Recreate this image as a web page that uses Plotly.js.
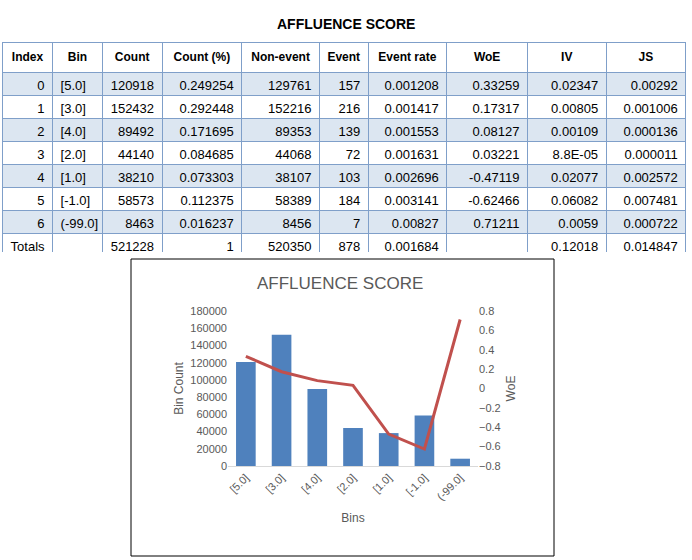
<!DOCTYPE html>
<html>
<head>
<meta charset="utf-8">
<script src="https://cdn.plot.ly/plotly-3.0.1.min.js"></script>
<style>body{margin:0;background:#fff}#chart{width:692px;height:560px}</style>
</head>
<body>
<div id="chart"></div>
<script>
// table data
var indexCol = ['0', '1', '2', '3', '4', '5', '6', 'Totals'];
var bins = ['[5.0]', '[3.0]', '[4.0]', '[2.0]', '[1.0]', '[-1.0]', '(-99.0]'];
var counts = [120918, 152432, 89492, 44140, 38210, 58573, 8463];
var countPct = ['0.249254', '0.292448', '0.171695', '0.084685', '0.073303', '0.112375', '0.016237'];
var nonEvent = [129761, 152216, 89353, 44068, 38107, 58389, 8456];
var events = [157, 216, 139, 72, 103, 184, 7];
var eventRate = ['0.001208', '0.001417', '0.001553', '0.001631', '0.002696', '0.003141', '0.00827'];
var woe = [0.33259, 0.17317, 0.08127, 0.03221, -0.47119, -0.62466, 0.71211];
var iv = ['0.02347', '0.00805', '0.00109', '8.8E-05', '0.02077', '0.06082', '0.0059'];
var js = ['0.00292', '0.001006', '0.000136', '0.000011', '0.002572', '0.007481', '0.000722'];
var totals = {count: '521228', pct: '1', nonEvent: '520350', event: '878', rate: '0.001684', iv: '0.12018', js: '0.014847'};
var headers = ['Index', 'Bin', 'Count', 'Count (%)', 'Non-event', 'Event', 'Event rate', 'WoE', 'IV', 'JS'];

var columns = [
  indexCol,
  bins.concat(['']),
  counts.map(String).concat([totals.count]),
  countPct.concat([totals.pct]),
  nonEvent.map(String).concat([totals.nonEvent]),
  events.map(String).concat([totals.event]),
  eventRate.concat([totals.rate]),
  woe.map(String).concat(['']),
  iv.concat([totals.iv]),
  js.concat([totals.js])
];
var rowFill = indexCol.map(function(d, i){ return (i % 2 == 0 && i < 7) ? '#dce6f1' : '#ffffff' });

var table = {
  type: 'table',
  domain: {x: [0.004, 0.992], y: [1 - 252/560, 1 - 42/560]},
  columnwidth: [50, 50, 60, 80, 78, 49, 79, 81, 79, 80],
  header: {
    values: headers.map(function(h){ return '<b>' + h + '</b>' }),
    align: 'center', height: 23,
    line: {color: '#7f9fc9', width: 1},
    fill: {color: '#ffffff'},
    font: {family: 'Liberation Sans Narrow, Liberation Sans', size: 12, color: '#000'}
  },
  cells: {
    values: columns,
    align: ['right', 'left', 'right', 'right', 'right', 'right', 'right', 'right', 'right', 'right'],
    height: 23,
    line: {color: '#7f9fc9', width: 1},
    fill: {color: headers.map(function(){ return rowFill })},
    font: {family: 'Liberation Sans', size: 13, color: '#000'}
  }
};

var bars = {
  type: 'bar', x: bins, y: counts, xaxis: 'x', yaxis: 'y',
  marker: {color: '#4f81bd'}, width: 0.55, name: 'Bin Count'
};
var line = {
  type: 'scatter', mode: 'lines', x: bins, y: woe, xaxis: 'x', yaxis: 'y2',
  line: {color: '#c0504d', width: 3}, name: 'WoE'
};

var tickFont = {family: 'Liberation Sans', size: 11, color: '#595959'};
var layout = {
  width: 692, height: 560,
  margin: {l: 0, r: 0, t: 0, b: 0},
  paper_bgcolor: '#fff', plot_bgcolor: 'rgba(0,0,0,0)',
  showlegend: false,
  xaxis: {
    domain: [228/692, 478/692], anchor: 'y', tickangle: -45,
    tickfont: tickFont, showline: true, linecolor: '#d9d9d9', ticks: '',
    title: {text: 'Bins', font: {family: 'Liberation Sans', size: 12, color: '#595959'}, standoff: 12}
  },
  yaxis: {
    domain: [1 - 466/560, 1 - 311/560], range: [0, 180000], dtick: 20000, tickformat: 'd',
    tickfont: tickFont, showgrid: false, zeroline: false, ticks: '',
    title: {text: 'Bin Count', font: {family: 'Liberation Sans', size: 12, color: '#595959'}, standoff: 4}
  },
  yaxis2: {
    overlaying: 'y', side: 'right', anchor: 'x', range: [-0.8, 0.8], dtick: 0.2,
    tickfont: tickFont, showgrid: false, zeroline: false, ticks: '',
    title: {text: 'WoE', font: {family: 'Liberation Sans', size: 12, color: '#595959'}, standoff: 6}
  },
  shapes: [{
    type: 'rect', xref: 'paper', yref: 'paper',
    x0: 131/692, x1: 554/692, y0: 1 - 556/560, y1: 1 - 259/560,
    line: {color: '#000', width: 1}
  }],
  annotations: [
    {text: '<b>AFFLUENCE SCORE</b>', xref: 'paper', yref: 'paper', x: 0.5, y: 1 - 14/560,
     showarrow: false, font: {family: 'Liberation Sans', size: 14, color: '#000'}},
    {text: 'AFFLUENCE SCORE', xref: 'paper', yref: 'paper', x: 340/692, y: 1 - 283/560,
     showarrow: false, font: {family: 'Liberation Sans', size: 17, color: '#595959'}}
  ]
};

Plotly.newPlot('chart', [table, bars, line], layout, {staticPlot: true});
</script>
</body>
</html>
